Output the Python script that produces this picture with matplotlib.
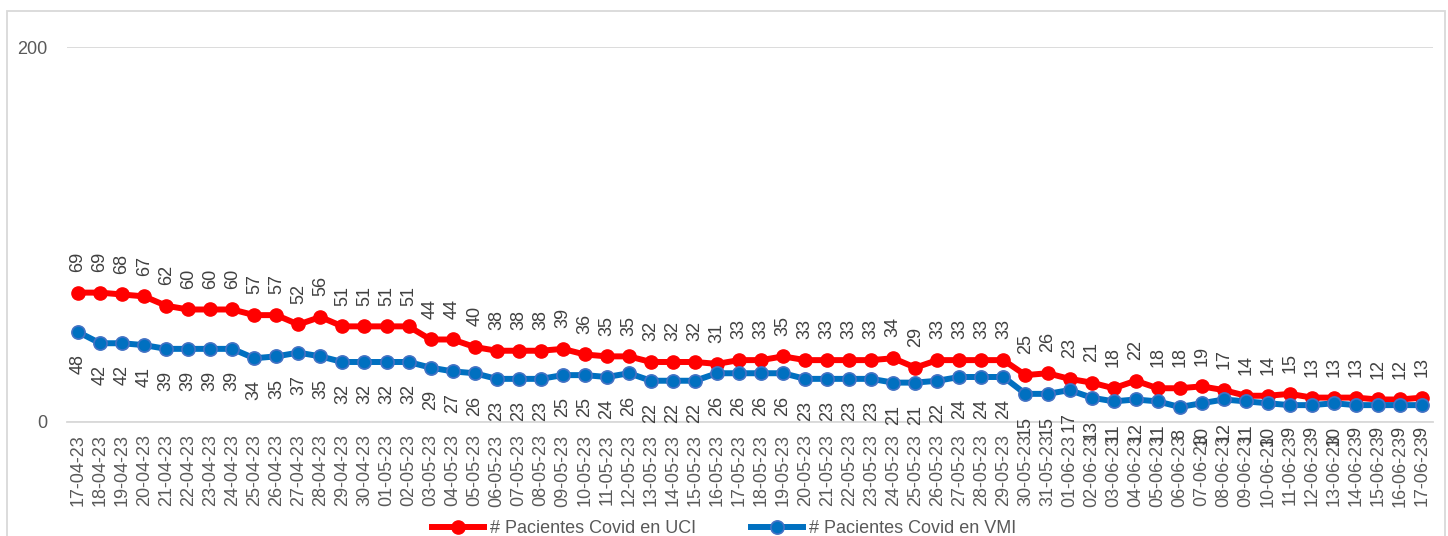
import matplotlib.pyplot as plt
from matplotlib.patches import Rectangle

plt.rcParams['font.family'] = ['Liberation Sans', 'DejaVu Sans']

#dates shown on the category axis (one per day)
fechas = ['17-04-23', '18-04-23', '19-04-23', '20-04-23', '21-04-23', '22-04-23',
          '23-04-23', '24-04-23', '25-04-23', '26-04-23', '27-04-23', '28-04-23',
          '29-04-23', '30-04-23', '01-05-23', '02-05-23', '03-05-23', '04-05-23',
          '05-05-23', '06-05-23', '07-05-23', '08-05-23', '09-05-23', '10-05-23',
          '11-05-23', '12-05-23', '13-05-23', '14-05-23', '15-05-23', '16-05-23',
          '17-05-23', '18-05-23', '19-05-23', '20-05-23', '21-05-23', '22-05-23',
          '23-05-23', '24-05-23', '25-05-23', '26-05-23', '27-05-23', '28-05-23',
          '29-05-23', '30-05-23', '31-05-23', '01-06-23', '02-06-23', '03-06-23',
          '04-06-23', '05-06-23', '06-06-23', '07-06-23', '08-06-23', '09-06-23',
          '10-06-23', '11-06-23', '12-06-23', '13-06-23', '14-06-23', '15-06-23',
          '16-06-23', '17-06-23']

#patients in UCI
uci = [69, 69, 68, 67, 62, 60, 60, 60, 57, 57, 52, 56, 51, 51,
       51, 51, 44, 44, 40, 38, 38, 38, 39, 36, 35, 35, 32, 32, 32, 31,
       33, 33, 35, 33, 33, 33, 33, 34, 29, 33, 33, 33, 33, 25, 26,
       23, 21, 18, 22, 18, 18, 19, 17, 14, 14, 15, 13, 13, 13, 12, 12, 13]

#patients on VMI
vmi = [48, 42, 42, 41, 39, 39, 39, 39, 34, 35, 37, 35, 32, 32,
       32, 32, 29, 27, 26, 23, 23, 23, 25, 25, 24, 26, 22, 22, 22, 26,
       26, 26, 26, 23, 23, 23, 23, 21, 21, 22, 24, 24, 24, 15, 15,
       17, 13, 11, 12, 11, 8, 10, 12, 11, 10, 9, 9, 10, 9, 9, 9, 9]

label_uci = '# Pacientes Covid en UCI'
label_vmi = '# Pacientes Covid en VMI'

fig = plt.figure(figsize=(14.48, 5.36), dpi=100)
ax = fig.add_axes([0.0463, 0.2127, 0.9434, 0.6996])

x = list(range(len(fechas)))
ax.plot(x, uci, color='#FF0000', lw=4.3, marker='o', ms=9.5,
        mfc='#FF0000', mec='#FF0000', label=label_uci, zorder=3)
ax.plot(x, vmi, color='#0070C0', lw=4.3, marker='o', ms=9.5,
        mfc='#0070C0', mec='#4472C4', mew=1.2, label=label_vmi, zorder=3)

#data labels, rotated like the excel chart
for i in x:
    ax.annotate(str(uci[i]), (i, uci[i]), xytext=(0, 15), textcoords='offset points',
                rotation=90, ha='center', va='bottom', fontsize=13, color='#404040')
    ax.annotate(str(vmi[i]), (i, vmi[i]), xytext=(0, -16), textcoords='offset points',
                rotation=90, ha='center', va='top', fontsize=13, color='#404040')

ax.set_xlim(-0.5, len(fechas) - 0.5)
ax.set_ylim(0, 200)
ax.set_yticks([0, 200])
ax.set_xticks(x)
ax.set_xticklabels(fechas, rotation=90)
ax.tick_params(axis='x', length=0, pad=9, labelsize=13, labelcolor='#595959')
ax.tick_params(axis='y', length=0, pad=14, labelsize=13, labelcolor='#595959')
ax.grid(axis='y', color='#D9D9D9', lw=1.3)
ax.set_axisbelow(True)
for s in ['top', 'right', 'left']:
    ax.spines[s].set_visible(False)
ax.spines['bottom'].set_color('#D9D9D9')
ax.spines['bottom'].set_linewidth(1.3)

leg = fig.legend(loc='center', bbox_to_anchor=(0.5, 0.014), ncol=2, frameon=False,
                 fontsize=13, handlelength=2.9, columnspacing=3.0, handletextpad=0.35,
                 labelcolor='#595959')

#outer chart border
fig.patches.append(Rectangle((7 / 1448, -0.1), 1438 / 1448, 1.1 - 11.5 / 536,
                             transform=fig.transFigure, fill=False,
                             edgecolor='#D9D9D9', lw=1.3))

fig.savefig('out.png', dpi=100)
